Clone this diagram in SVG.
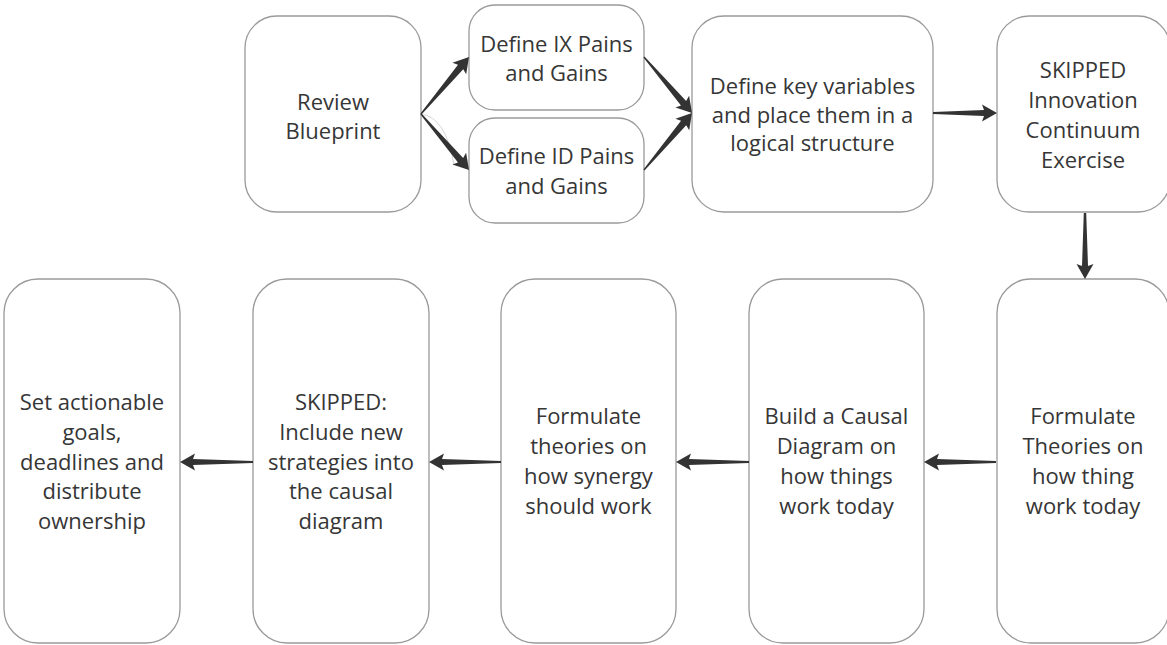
<svg xmlns="http://www.w3.org/2000/svg" width="1167" height="645" viewBox="0 0 1167 645">
  <style>
    .node rect { fill: #ffffff; stroke: #9a9a9a; stroke-width: 1.3; }
    .node text { font-family: "Open Sans", "Liberation Sans", sans-serif; font-size: 22px; fill: #363636; text-anchor: middle; }
    .arrow { fill: #333333; stroke: none; }
    .ghost { fill: none; stroke: #cfcfcf; stroke-width: 0.9; }
  </style>
  <rect width="1167" height="645" fill="#ffffff"/>

  <!-- top row -->
  <g id="review-blueprint" class="node">
    <rect x="245" y="16" width="176" height="196" rx="32"/>
    <text x="333" y="110">Review</text>
    <text x="333" y="139">Blueprint</text>
  </g>
  <g id="define-ix" class="node">
    <rect x="469" y="5" width="175" height="105" rx="26"/>
    <text x="556.5" y="52">Define IX Pains</text>
    <text x="556.5" y="81">and Gains</text>
  </g>
  <g id="define-id" class="node">
    <rect x="469" y="118" width="175" height="105" rx="26"/>
    <text x="556.5" y="164">Define ID Pains</text>
    <text x="556.5" y="194">and Gains</text>
  </g>
  <g id="key-variables" class="node">
    <rect x="692" y="16" width="241" height="196" rx="32"/>
    <text x="812.5" y="94">Define key variables</text>
    <text x="812.5" y="123">and place them in a</text>
    <text x="812.5" y="151">logical structure</text>
  </g>
  <g id="innovation-continuum" class="node">
    <rect x="997" y="16" width="173" height="196" rx="32"/>
    <text x="1083" y="78">SKIPPED</text>
    <text x="1083" y="108">Innovation</text>
    <text x="1083" y="138">Continuum</text>
    <text x="1083" y="168">Exercise</text>
  </g>

  <!-- bottom row -->
  <g id="theories-today" class="node">
    <rect x="997" y="279" width="172" height="364" rx="34"/>
    <text x="1083" y="424">Formulate</text>
    <text x="1083" y="454">Theories on</text>
    <text x="1083" y="484">how thing</text>
    <text x="1083" y="514">work today</text>
  </g>
  <g id="causal-diagram" class="node">
    <rect x="749" y="279" width="175" height="364" rx="34"/>
    <text x="836.5" y="424">Build a Causal</text>
    <text x="836.5" y="454">Diagram on</text>
    <text x="836.5" y="484">how things</text>
    <text x="836.5" y="514">work today</text>
  </g>
  <g id="synergy-theories" class="node">
    <rect x="501" y="279" width="175" height="364" rx="34"/>
    <text x="588.5" y="424">Formulate</text>
    <text x="588.5" y="454">theories on</text>
    <text x="588.5" y="484">how synergy</text>
    <text x="588.5" y="514">should work</text>
  </g>
  <g id="new-strategies" class="node">
    <rect x="253" y="279" width="176" height="364" rx="34"/>
    <text x="341" y="410">SKIPPED:</text>
    <text x="341" y="440">Include new</text>
    <text x="341" y="470">strategies into</text>
    <text x="341" y="499">the causal</text>
    <text x="341" y="529">diagram</text>
  </g>
  <g id="actionable-goals" class="node">
    <rect x="4" y="279" width="176" height="364" rx="34"/>
    <text x="92" y="410">Set actionable</text>
    <text x="92" y="440">goals,</text>
    <text x="92" y="470">deadlines and</text>
    <text x="92" y="499">distribute</text>
    <text x="92" y="529">ownership</text>
  </g>

  <!-- connectors: tapered shaft with a swept arrowhead, drawn along +x then placed -->
  <g id="connectors">
    <path class="ghost" d="M421,114 Q446,117 454,165"/>
    <!-- Review Blueprint -> Define IX -->
    <path class="arrow" transform="translate(421,114) rotate(-49.9)" d="M0,-0.7 L61.5,-3.4 L59.5,-9 L74.5,0 L59.5,9 L61.5,3.4 L0,0.7 Z"/>
    <!-- Review Blueprint -> Define ID -->
    <path class="arrow" transform="translate(421,114) rotate(49.4)" d="M0,-0.7 L60.8,-3.4 L58.8,-9 L73.8,0 L58.8,9 L60.8,3.4 L0,0.7 Z"/>
    <!-- Define IX -> key variables -->
    <path class="arrow" transform="translate(644,57) rotate(49.4)" d="M0,-0.7 L60.8,-3.4 L58.8,-9 L73.8,0 L58.8,9 L60.8,3.4 L0,0.7 Z"/>
    <!-- Define ID -> key variables -->
    <path class="arrow" transform="translate(644,170) rotate(-49.9)" d="M0,-0.7 L61.5,-3.4 L59.5,-9 L74.5,0 L59.5,9 L61.5,3.4 L0,0.7 Z"/>
    <!-- key variables -> Innovation Continuum -->
    <path class="arrow" transform="translate(933,113)" d="M0,-1 L51,-3 L49,-8.5 L64,0 L49,8.5 L51,3 L0,1 Z"/>
    <!-- Innovation Continuum -> Theories today -->
    <path class="arrow" transform="translate(1085,213) rotate(90)" d="M0,-1.2 L53,-3 L51,-8.5 L66,0 L51,8.5 L53,3 L0,1.2 Z"/>
    <!-- bottom row, right to left -->
    <path class="arrow" transform="translate(996,462) rotate(180)" d="M0,-1 L59,-3 L57,-8.5 L72,0 L57,8.5 L59,3 L0,1 Z"/>
    <path class="arrow" transform="translate(749,462) rotate(180)" d="M0,-1 L60,-3 L58,-8.5 L73,0 L58,8.5 L60,3 L0,1 Z"/>
    <path class="arrow" transform="translate(501,462) rotate(180)" d="M0,-1 L59,-3 L57,-8.5 L72,0 L57,8.5 L59,3 L0,1 Z"/>
    <path class="arrow" transform="translate(253,462) rotate(180)" d="M0,-1 L60,-3 L58,-8.5 L73,0 L58,8.5 L60,3 L0,1 Z"/>
  </g>
</svg>
